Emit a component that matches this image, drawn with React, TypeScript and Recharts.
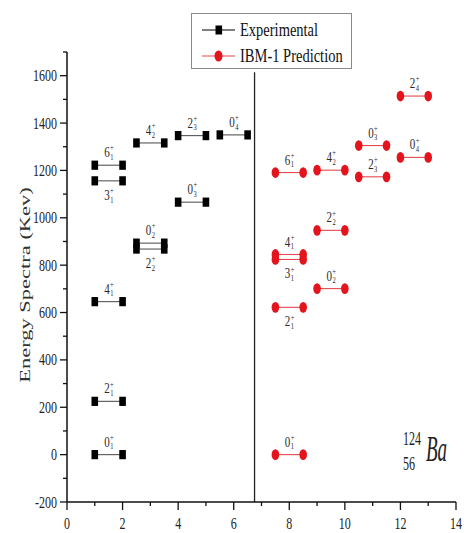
import React from 'react';
import { ScatterChart, Scatter, XAxis, YAxis, ReferenceLine, Legend } from 'recharts';

// Experimental levels
const expSpin = ['0', '2', '4', '2', '0', '3', '6', '4', '0', '2', '0'];
const expIdx = ['1', '1', '1', '2', '2', '1', '1', '2', '3', '3', '4'];
const expX = [1, 1, 1, 2.5, 2.5, 1, 1, 2.5, 4, 4, 5.5];
const expE = [0, 225, 646, 868, 893, 1156, 1222, 1316, 1066, 1347, 1350];
const expBelow = [false, false, false, true, false, true, false, false, false, false, false];

// IBM-1 predicted levels
const ibmSpin = ['0', '2', '3', '4', '0', '2', '6', '4', '2', '0', '0', '2'];
const ibmIdx = ['1', '1', '1', '1', '2', '2', '1', '2', '3', '3', '4', '4'];
const ibmX = [7.5, 7.5, 7.5, 7.5, 9, 9, 7.5, 9, 10.5, 10.5, 12, 12];
const ibmE = [0, 622, 824, 845, 701, 947, 1191, 1201, 1173, 1305, 1255, 1514];
const ibmBelow = [false, true, true, false, false, false, false, false, false, false, false, false];

const levelWidth = 1;
const separatorX = 6.75;
const separatorTop = 1615;

const xTicks = [0, 1, 2, 3, 4, 5, 6, 7, 8, 9, 10, 11, 12, 13, 14];
const yTicks = [-200, -100, 0, 100, 200, 300, 400, 500, 600, 700, 800, 900, 1000, 1100, 1200, 1300, 1400, 1500, 1600, 1700];

const FONT = '"Liberation Serif", "Times New Roman", serif';
const RED = '#e3141c';
const RED_LINE = '#e4474d';

const expLabels = expE.map((e, i) => ({ x: expX[i] + levelWidth / 2, y: e, spin: expSpin[i], idx: expIdx[i], below: expBelow[i] }));
const ibmLabels = ibmE.map((e, i) => ({ x: ibmX[i] + levelWidth / 2, y: e, spin: ibmSpin[i], idx: ibmIdx[i], below: ibmBelow[i] }));

const SquareMark = (p: any) => <rect x={p.cx - 3.3} y={p.cy - 4.6} width={6.6} height={9.2} fill="#000" />;
const CircleMark = (p: any) => <ellipse cx={p.cx} cy={p.cy} rx={3.8} ry={5.4} fill={RED} />;

const LevelLabel = (p: any) => {
  const { cx, cy, payload } = p;
  if (cx == null || cy == null) return <g />;
  const yb = payload.below ? cy + 19 : cy - 8;
  return (
    <text
      transform={`translate(${cx} ${yb}) scale(1 1.35)`}
      x={-4.5}
      y={0}
      fontSize={11}
      fontFamily={FONT}
      fill="#2a2a2a"
    >
      <tspan>{payload.spin}</tspan>
      <tspan fontSize={6.5} dx={0.4} dy={-5}>+</tspan>
      <tspan fontSize={6.5} dx={-3.6} dy={7}>{payload.idx}</tspan>
    </text>
  );
};

const YTick = (p: any) => {
  const { x, y, payload } = p;
  const v = payload.value;
  const major = v % 200 === 0;
  return (
    <g>
      <line x1={x - (major ? 7 : 4)} x2={x} y1={y} y2={y} stroke="#111" strokeWidth={1.3} />
      {major && v !== 1700 ? (
        <text transform={`translate(${x - 10} ${y + 5.5}) scale(1 1.4)`} textAnchor="end" fontSize={12} fontFamily={FONT} fill="#222">{v}</text>
      ) : null}
    </g>
  );
};

const XTick = (p: any) => {
  const { x, y, payload } = p;
  const v = payload.value;
  const major = v % 2 === 0;
  return (
    <g>
      <line x1={x} x2={x} y1={y} y2={y + (major ? 8 : 4)} stroke="#111" strokeWidth={1.3} />
      {major ? (
        <text transform={`translate(${x} ${y + 27}) scale(1 1.4)`} textAnchor="middle" fontSize={12} fontFamily={FONT} fill="#222">{v}</text>
      ) : null}
    </g>
  );
};

const YTitle = () => (
  <text transform="translate(30 285) rotate(-90) scale(1.5 1)" textAnchor="middle" fontSize={15} fontFamily={FONT} fill="#333">
    Energy Spectra (Kev)
  </text>
);

const LegendBox = () => (
  <svg width={161} height={56} style={{ display: 'block' }}>
    <rect x={0.5} y={0.5} width={160} height={55} fill="#fff" stroke="#8a8a8a" strokeWidth={1} />
    <line x1={11} x2={44} y1={17} y2={17} stroke="#000" strokeWidth={1.2} />
    <rect x={24.5} y={12.5} width={6.6} height={9} fill="#000" />
    <text transform="translate(49 23) scale(1 1.35)" fontSize={14.5} fontFamily={FONT} fill="#111">Experimental</text>
    <line x1={11} x2={44} y1={43} y2={43} stroke={RED_LINE} strokeWidth={1.2} />
    <ellipse cx={27.5} cy={43} rx={4} ry={5.5} fill={RED} />
    <text transform="translate(49 49) scale(1 1.35)" fontSize={14.5} fontFamily={FONT} fill="#111">IBM-1 Prediction</text>
  </svg>
);

export default function App() {
  return (
    <div style={{ position: 'absolute', left: 0, top: 0, width: 464, height: 533, background: '#fff' }}>
      <ScatterChart width={464} height={533} margin={{ top: 52, right: 8, bottom: 0, left: 0 }}>
        <XAxis
          type="number"
          dataKey="x"
          domain={[0, 14]}
          ticks={xTicks}
          interval={0}
          tick={XTick}
          tickLine={false}
          tickSize={0}
          tickMargin={0}
          axisLine={{ stroke: '#111', strokeWidth: 1.5 }}
          height={31}
          allowDataOverflow
        />
        <YAxis
          type="number"
          dataKey="y"
          domain={[-200, 1700]}
          ticks={yTicks}
          interval={0}
          tick={YTick}
          tickLine={false}
          tickSize={0}
          tickMargin={0}
          axisLine={{ stroke: '#111', strokeWidth: 1.5 }}
          width={67}
          allowDataOverflow
          label={{ content: YTitle }}
        />
        <ReferenceLine
          segment={[{ x: separatorX, y: -200 }, { x: separatorX, y: separatorTop }]}
          stroke="#222"
          strokeWidth={1.3}
          ifOverflow="visible"
        />
        {expE.map((e, i) => (
          <Scatter
            key={`exp${i}`}
            name="Experimental"
            data={[{ x: expX[i], y: e }, { x: expX[i] + levelWidth, y: e }]}
            line={{ stroke: '#555', strokeWidth: 1.1 }}
            shape={SquareMark}
            legendType="none"
            isAnimationActive={false}
          />
        ))}
        {ibmE.map((e, i) => (
          <Scatter
            key={`ibm${i}`}
            name="IBM-1 Prediction"
            data={[{ x: ibmX[i], y: e }, { x: ibmX[i] + levelWidth, y: e }]}
            line={{ stroke: RED_LINE, strokeWidth: 1.1 }}
            shape={CircleMark}
            legendType="none"
            isAnimationActive={false}
          />
        ))}
        <Scatter data={expLabels} shape={LevelLabel} legendType="none" isAnimationActive={false} />
        <Scatter data={ibmLabels} shape={LevelLabel} legendType="none" isAnimationActive={false} />
        <Legend
          layout="horizontal"
          verticalAlign="middle"
          align="center"
          content={LegendBox}
          wrapperStyle={{ position: 'absolute', left: 191, top: 13, width: 161, height: 56 }}
        />
      </ScatterChart>
      <svg width={464} height={533} style={{ position: 'absolute', left: 0, top: 0, pointerEvents: 'none' }}>
        <g fontFamily={FONT} fill="#222">
          <text transform="translate(403 445) scale(1 1.6)" fontSize={12}>124</text>
          <text transform="translate(403 470) scale(1 1.6)" fontSize={12}>56</text>
          <text transform="translate(426 461) scale(1 1.85)" fontSize={19} fontStyle="italic">Ba</text>
        </g>
      </svg>
    </div>
  );
}
